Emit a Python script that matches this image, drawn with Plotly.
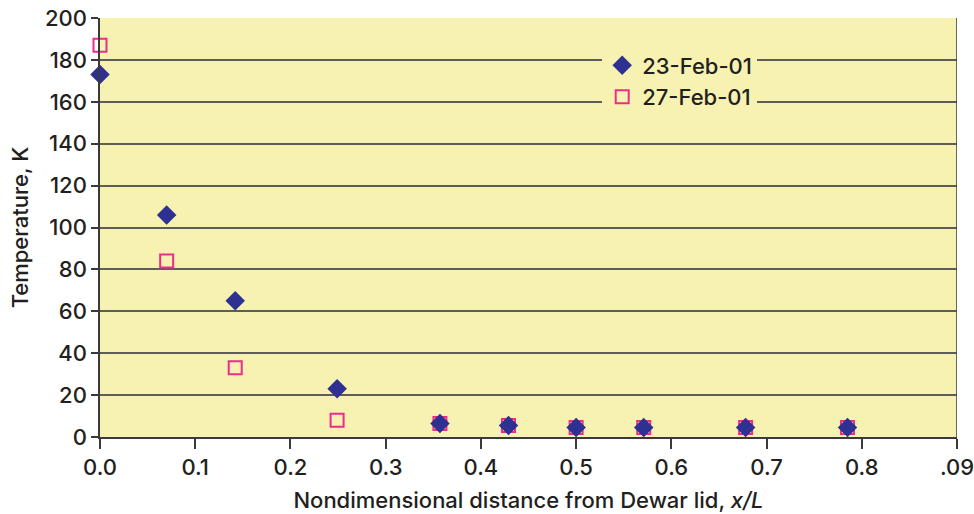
import plotly.graph_objects as go

# Nondimensional distance from the Dewar lid for each sensor
x_feb23 = [0.0, 0.070, 0.142, 0.249, 0.357, 0.429, 0.500, 0.571, 0.678, 0.785]
t_feb23 = [173, 106, 65, 23, 6.5, 5.5, 4.5, 4.5, 4.5, 4.5]

x_feb27 = [0.0, 0.070, 0.142, 0.249, 0.357, 0.429, 0.500, 0.571, 0.678, 0.785]
t_feb27 = [187, 84, 33, 8, 6.5, 5.5, 4.5, 4.5, 4.5, 4.5]

x_tickvals = [0.0, 0.1, 0.2, 0.3, 0.4, 0.5, 0.6, 0.7, 0.8, 0.9]
x_ticktext = ["0.0", "0.1", "0.2", "0.3", "0.4", "0.5", "0.6", "0.7", "0.8", ".09"]
y_tickvals = [0, 20, 40, 60, 80, 100, 120, 140, 160, 180, 200]

bg = "#F7F2B1"
ink = "#231F20"
axis_col = "#3a3a3a"
font = "Inter, Liberation Sans, Arial, sans-serif"


def txt(size):
    return dict(family=font, size=size, color=ink, weight=500)


fig = go.Figure()
# open squares first so the diamonds sit on top of them
fig.add_trace(go.Scatter(
    x=x_feb27, y=t_feb27, mode="markers", name="27-Feb-01",
    marker=dict(symbol="square-open", size=13, color="#EC2D8C",
                line=dict(width=2)),
    cliponaxis=False,
))
fig.add_trace(go.Scatter(
    x=x_feb23, y=t_feb23, mode="markers", name="23-Feb-01",
    marker=dict(symbol="diamond", size=15, color="#2E3192",
                line=dict(width=0)),
    cliponaxis=False,
))

fig.update_layout(
    width=974, height=514,
    margin=dict(l=100, r=17, t=18, b=77, autoexpand=False),
    paper_bgcolor="white",
    plot_bgcolor=bg,
    font=txt(22),
    showlegend=True,
    legend=dict(
        x=0.586, y=0.937, xanchor="left", yanchor="top",
        bgcolor=bg, borderwidth=0,
        font=txt(22),
        traceorder="reversed",
        itemsizing="trace",
        tracegroupgap=0,
    ),
    xaxis=dict(
        range=[0, 0.9], tickvals=x_tickvals, ticktext=x_ticktext,
        showgrid=False, zeroline=False, automargin=False,
        ticklabeloverflow="allow",
        showline=True, linecolor=axis_col, linewidth=1.5,
        ticks="outside", ticklen=10, tickwidth=1.5, tickcolor=axis_col,
        tickfont=txt(22),
        title=dict(text="Nondimensional distance from Dewar lid, <i>x/L</i>",
                   font=txt(22), standoff=13),
    ),
    yaxis=dict(
        range=[0, 200], tickvals=y_tickvals,
        showgrid=True, gridcolor="#5E5E58", gridwidth=1.5, zeroline=False,
        automargin=False, ticklabeloverflow="allow",
        showline=True, linecolor=axis_col, linewidth=1.5,
        ticks="outside", ticklen=7, tickwidth=1.5, tickcolor=axis_col,
        tickfont=txt(22),
        title=dict(text="Temperature, K", font=txt(22), standoff=10),
    ),
)
# right border of the plot area
fig.add_shape(type="line", xref="x", yref="paper", x0=0.9, x1=0.9, y0=0, y1=1,
              line=dict(color=axis_col, width=1.5))

fig.write_html("out.html")
